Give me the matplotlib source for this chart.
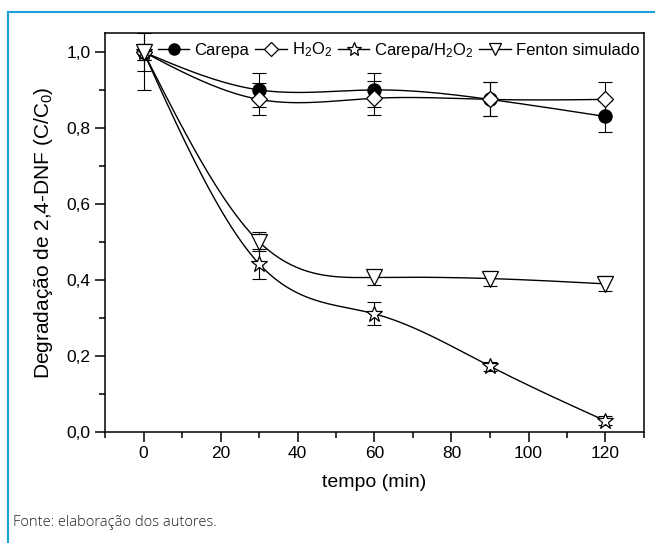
import numpy as np
import matplotlib
matplotlib.use("Agg")
import matplotlib.pyplot as plt
from matplotlib.lines import Line2D
from matplotlib.ticker import MultipleLocator, FuncFormatter

plt.rcParams['font.family'] = ['Liberation Sans', 'DejaVu Sans']
plt.rcParams['mathtext.default'] = 'regular'

tempo = [0, 30, 60, 90, 120]

carepa = [1.0, 0.90, 0.90, 0.875, 0.83]
carepa_err = [0.10, 0.045, 0.045, 0.045, 0.04]

h2o2 = [1.0, 0.875, 0.878, 0.875, 0.875]
h2o2_err = [0.05, 0.042, 0.045, 0.045, 0.045]

carepa_h2o2 = [1.0, 0.442, 0.31, 0.172, 0.028]
carepa_h2o2_err = [0.02, 0.04, 0.03, 0.012, 0.012]

fenton = [1.0, 0.50, 0.406, 0.403, 0.389]
fenton_err = [0.02, 0.025, 0.02, 0.02, 0.02]


def natural_spline(x, y, n=200):
    # natural cubic spline through the points, for Origin-like smooth lines
    x = np.asarray(x, float)
    y = np.asarray(y, float)
    k = len(x)
    h = np.diff(x)
    A = np.zeros((k, k))
    b = np.zeros(k)
    A[0, 0] = A[-1, -1] = 1
    for i in range(1, k - 1):
        A[i, i - 1] = h[i - 1]
        A[i, i] = 2 * (h[i - 1] + h[i])
        A[i, i + 1] = h[i]
        b[i] = 6 * ((y[i + 1] - y[i]) / h[i] - (y[i] - y[i - 1]) / h[i - 1])
    m = np.linalg.solve(A, b)
    xs = np.linspace(x[0], x[-1], n)
    idx = np.clip(np.searchsorted(x, xs) - 1, 0, k - 2)
    x0, x1 = x[idx], x[idx + 1]
    hh = x1 - x0
    t0, t1 = x1 - xs, xs - x0
    ys = (m[idx] * t0 ** 3 + m[idx + 1] * t1 ** 3) / (6 * hh) \
        + (y[idx] / hh - m[idx] * hh / 6) * t0 \
        + (y[idx + 1] / hh - m[idx + 1] * hh / 6) * t1
    return xs, ys


fig = plt.figure(figsize=(6.55, 5.43), dpi=100)
ax = fig.add_axes([105 / 655, 1 - 431.5 / 543, (644 - 105) / 655, (431.5 - 33) / 543])

series = [
    ("Carepa", carepa, carepa_err, dict(marker='o', mfc='black', ms=9.5)),
    ("H$_2$O$_2$", h2o2, h2o2_err, dict(marker='D', mfc='white', ms=8.5)),
    ("Carepa/H$_2$O$_2$", carepa_h2o2, carepa_h2o2_err, dict(marker='*', mfc='white', ms=12)),
    ("Fenton simulado", fenton, fenton_err, dict(marker='v', mfc='white', ms=11)),
]

handles = []
for label, vals, err, mk in series:
    xs, ys = natural_spline(tempo, vals)
    ax.plot(xs, ys, color='black', lw=1.0, zorder=2)
    ax.errorbar(tempo, vals, yerr=err, fmt='none', ecolor='black',
                elinewidth=0.8, capsize=5, capthick=0.8, zorder=3)
    ax.plot(tempo, vals, ls='none', mec='black', mew=0.9, zorder=4, **mk)
    handles.append(Line2D([], [], color='black', lw=1.0, mec='black',
                          mew=0.9, label=label, **mk))

ax.set_xlim(-10, 130)
ax.set_ylim(0, 1.05)
ax.xaxis.set_major_locator(MultipleLocator(20))
ax.xaxis.set_minor_locator(MultipleLocator(10))
ax.yaxis.set_major_locator(MultipleLocator(0.2))
ax.yaxis.set_minor_locator(MultipleLocator(0.1))
ax.yaxis.set_major_formatter(FuncFormatter(lambda v, p: f"{v:.1f}".replace('.', ',')))
ax.tick_params(which='major', direction='out', length=7, width=1.1, labelsize=12.5)
ax.tick_params(which='minor', direction='out', length=4, width=1.1)
for s in ax.spines.values():
    s.set_linewidth(1.1)

ax.set_xlabel("tempo (min)", fontsize=14, labelpad=9)
ax.set_ylabel("Degradação de 2,4-DNF (C/C$_0$)", fontsize=15, labelpad=8)

ax.legend(handles=handles, loc='upper center', bbox_to_anchor=(0.545, 1.01), ncol=4,
          frameon=False, fontsize=12, handlelength=1.9, handletextpad=0.3,
          columnspacing=0.35, borderpad=0.2, markerscale=0.85)

# blue frame lines and source note
fig.add_artist(Line2D([8 / 655, 1], [1 - 12 / 543, 1 - 12 / 543], color='#1ba1dc', lw=1.5))
fig.add_artist(Line2D([8 / 655, 8 / 655], [0, 1 - 12 / 543], color='#1ba1dc', lw=1.5))
fig.text(13 / 655, 1 - 522 / 543, "Fonte: elaboração dos autores.", fontsize=10.5,
         family=['Open Sans', 'DejaVu Sans'], fontweight='light', color='#222222', va='center')

fig.savefig("out.png", dpi=100)
